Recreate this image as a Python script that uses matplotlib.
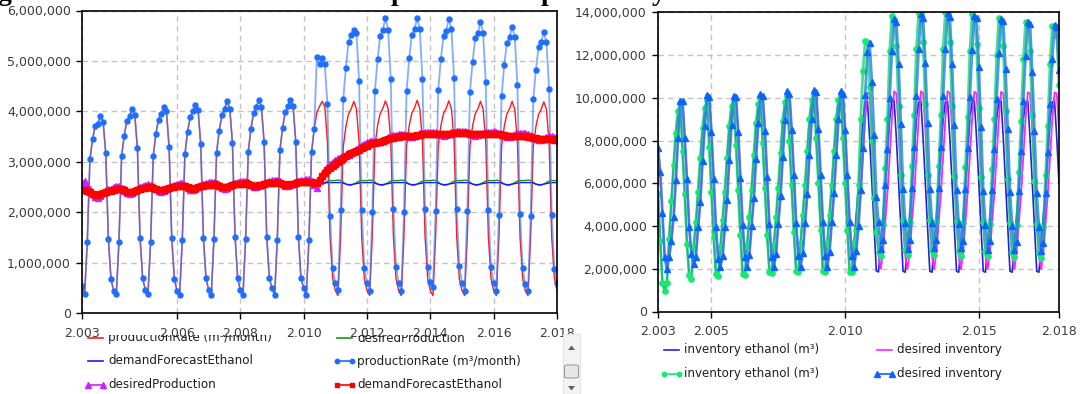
import numpy as np
import matplotlib
matplotlib.use("Agg")
import matplotlib.pyplot as plt
from matplotlib.lines import Line2D
from matplotlib.patches import Rectangle, Polygon, FancyBboxPatch
from matplotlib.ticker import FuncFormatter, FixedLocator
from matplotlib.transforms import Bbox

# monthly values, millions, Jan 2003 .. Jan 2018
# shared part (both runs equal): Jan 2003 .. May 2010 (89 months)
# run parts: Jun 2010 .. Jan 2018 (92 months)

prod_shared = [
    0.55, 0.38, 1.41, 3.05, 3.45, 3.72, 3.76, 3.90, 3.80, 3.17, 1.47, 0.67,
    0.45, 0.38, 1.41, 3.11, 3.52, 3.82, 3.90, 4.05, 3.93, 3.27, 1.49, 0.69,
    0.46, 0.38, 1.41, 3.12, 3.56, 3.84, 3.95, 4.09, 4.00, 3.30, 1.50, 0.68,
    0.45, 0.37, 1.45, 3.15, 3.60, 3.88, 4.00, 4.13, 4.02, 3.35, 1.50, 0.69,
    0.46, 0.37, 1.48, 3.18, 3.62, 3.92, 4.05, 4.20, 4.05, 3.38, 1.52, 0.69,
    0.46, 0.36, 1.47, 3.20, 3.65, 3.96, 4.08, 4.23, 4.08, 3.40, 1.52, 0.69,
    0.50, 0.36, 1.46, 3.23, 3.67, 3.98, 4.10, 4.23, 4.10, 3.40, 1.52, 0.69,
    0.50, 0.36, 1.46, 3.20, 3.66,
]
prod_run1_post = [
    3.98, 4.10, 4.20, 4.10, 3.40, 1.50, 0.69,
    0.45, 0.35, 1.50, 3.30, 3.70, 3.95, 4.05, 4.20, 4.05, 3.40, 1.50, 0.68,
    0.45, 0.35, 1.52, 3.32, 3.72, 3.96, 4.06, 4.21, 4.06, 3.42, 1.52, 0.68,
    0.45, 0.35, 1.52, 3.32, 3.72, 3.97, 4.07, 4.22, 4.06, 3.42, 1.52, 0.68,
    0.45, 0.35, 1.52, 3.31, 3.72, 3.96, 4.06, 4.21, 4.05, 3.41, 1.51, 0.68,
    0.45, 0.35, 1.51, 3.30, 3.71, 3.95, 4.05, 4.20, 4.05, 3.40, 1.51, 0.68,
    0.45, 0.35, 1.51, 3.30, 3.70, 3.95, 4.05, 4.20, 4.04, 3.40, 1.50, 0.68,
    0.45, 0.35, 1.50, 3.30, 3.70, 3.94, 4.04, 4.19, 4.04, 3.39, 1.50, 0.70,
    0.45,
]
prod_run2_post = [
    5.07, 4.93, 5.05, 4.93, 4.15, 1.92, 0.89,
    0.60, 0.46, 2.05, 4.25, 4.87, 5.37, 5.52, 5.62, 5.55, 4.60, 2.05, 0.90,
    0.60, 0.45, 2.00, 4.40, 5.03, 5.50, 5.62, 5.85, 5.62, 4.65, 2.07, 0.92,
    0.60, 0.45, 2.00, 4.40, 5.05, 5.52, 5.63, 5.85, 5.63, 4.65, 2.06, 0.92,
    0.63, 0.52, 2.02, 4.43, 5.04, 5.50, 5.60, 5.83, 5.63, 4.66, 2.07, 0.93,
    0.60, 0.45, 2.03, 4.38, 4.97, 5.45, 5.55, 5.78, 5.55, 4.58, 2.05, 0.92,
    0.60, 0.45, 1.95, 4.30, 4.92, 5.35, 5.47, 5.68, 5.47, 4.52, 1.97, 0.90,
    0.58, 0.45, 1.92, 4.25, 4.82, 5.27, 5.37, 5.57, 5.37, 4.45, 1.95, 0.88,
    0.60,
]
forecast_shared = [
    2.45, 2.44, 2.42, 2.40, 2.37, 2.35, 2.35, 2.36, 2.38, 2.40, 2.42, 2.43,
    2.45, 2.46, 2.47, 2.46, 2.44, 2.41, 2.40, 2.41, 2.43, 2.45, 2.47, 2.48,
    2.49, 2.50, 2.50, 2.49, 2.47, 2.45, 2.44, 2.45, 2.47, 2.49, 2.50, 2.51,
    2.52, 2.53, 2.53, 2.52, 2.50, 2.48, 2.47, 2.48, 2.50, 2.52, 2.53, 2.54,
    2.55, 2.55, 2.56, 2.55, 2.53, 2.51, 2.50, 2.51, 2.53, 2.55, 2.56, 2.56,
    2.57, 2.57, 2.58, 2.57, 2.55, 2.53, 2.53, 2.54, 2.55, 2.57, 2.58, 2.58,
    2.59, 2.59, 2.60, 2.59, 2.57, 2.55, 2.55, 2.56, 2.57, 2.59, 2.60, 2.60,
    2.60, 2.61, 2.61, 2.60, 2.58,
]
desired_shared = [
    2.58, 2.62, 2.55, 2.46, 2.36, 2.30, 2.28, 2.32, 2.38, 2.43, 2.46, 2.47,
    2.51, 2.53, 2.53, 2.49, 2.43, 2.38, 2.37, 2.39, 2.43, 2.47, 2.50, 2.52,
    2.54, 2.56, 2.55, 2.52, 2.46, 2.42, 2.41, 2.43, 2.47, 2.51, 2.53, 2.55,
    2.57, 2.59, 2.58, 2.55, 2.49, 2.45, 2.44, 2.46, 2.50, 2.54, 2.56, 2.58,
    2.60, 2.61, 2.61, 2.58, 2.52, 2.48, 2.47, 2.49, 2.53, 2.57, 2.59, 2.60,
    2.62, 2.63, 2.63, 2.60, 2.54, 2.50, 2.50, 2.52, 2.55, 2.59, 2.61, 2.62,
    2.64, 2.65, 2.65, 2.62, 2.56, 2.52, 2.52, 2.54, 2.57, 2.61, 2.63, 2.64,
    2.65, 2.66, 2.66, 2.62, 2.55,
]
forecast_run1_post = [
    2.58, 2.57, 2.57, 2.58, 2.59, 2.59, 2.59,
    2.59, 2.59, 2.59, 2.58, 2.56, 2.55, 2.55, 2.56, 2.57, 2.58, 2.59, 2.59,
    2.59, 2.59, 2.59, 2.58, 2.56, 2.55, 2.55, 2.56, 2.57, 2.58, 2.59, 2.59,
    2.59, 2.59, 2.59, 2.58, 2.56, 2.55, 2.55, 2.56, 2.57, 2.58, 2.59, 2.59,
    2.59, 2.59, 2.59, 2.58, 2.56, 2.55, 2.55, 2.56, 2.57, 2.58, 2.59, 2.59,
    2.59, 2.59, 2.59, 2.58, 2.56, 2.55, 2.55, 2.56, 2.57, 2.58, 2.59, 2.59,
    2.59, 2.59, 2.59, 2.58, 2.56, 2.55, 2.55, 2.56, 2.57, 2.58, 2.59, 2.59,
    2.59, 2.59, 2.59, 2.58, 2.56, 2.55, 2.55, 2.56, 2.57, 2.58, 2.59, 2.59,
    2.59,
]
desired_run1_post = [
    2.55, 2.54, 2.56, 2.59, 2.62, 2.63, 2.63,
    2.63, 2.64, 2.63, 2.60, 2.56, 2.54, 2.54, 2.56, 2.59, 2.62, 2.63, 2.63,
    2.63, 2.64, 2.63, 2.60, 2.56, 2.54, 2.54, 2.56, 2.59, 2.62, 2.63, 2.63,
    2.63, 2.64, 2.63, 2.60, 2.56, 2.54, 2.54, 2.56, 2.59, 2.62, 2.63, 2.63,
    2.63, 2.64, 2.63, 2.60, 2.56, 2.54, 2.54, 2.56, 2.59, 2.62, 2.63, 2.63,
    2.63, 2.64, 2.63, 2.60, 2.56, 2.54, 2.54, 2.56, 2.59, 2.62, 2.63, 2.63,
    2.63, 2.64, 2.63, 2.60, 2.56, 2.54, 2.54, 2.56, 2.59, 2.62, 2.63, 2.63,
    2.63, 2.64, 2.63, 2.60, 2.56, 2.54, 2.54, 2.56, 2.59, 2.62, 2.63, 2.63,
    2.63,
]
forecast_run2_post = [
    2.58, 2.65, 2.72, 2.78, 2.83, 2.88, 2.92,
    2.96, 3.00, 3.04, 3.08, 3.12, 3.15, 3.18, 3.20, 3.22, 3.24, 3.27, 3.30,
    3.32, 3.35, 3.37, 3.38, 3.39, 3.40, 3.42, 3.44, 3.46, 3.47, 3.48, 3.49,
    3.50, 3.51, 3.51, 3.51, 3.51, 3.51, 3.52, 3.53, 3.54, 3.55, 3.55, 3.55,
    3.55, 3.56, 3.56, 3.55, 3.55, 3.55, 3.55, 3.56, 3.56, 3.57, 3.57, 3.57,
    3.57, 3.57, 3.57, 3.56, 3.55, 3.55, 3.55, 3.55, 3.56, 3.56, 3.56, 3.56,
    3.56, 3.56, 3.55, 3.54, 3.53, 3.52, 3.52, 3.52, 3.52, 3.52, 3.52, 3.51,
    3.51, 3.50, 3.49, 3.48, 3.47, 3.46, 3.45, 3.45, 3.45, 3.45, 3.45, 3.44,
    3.44,
]
desired_run2_post = [
    2.48, 2.62, 2.76, 2.84, 2.90, 2.95, 3.00,
    3.04, 3.08, 3.10, 3.12, 3.13, 3.14, 3.17, 3.21, 3.25, 3.29, 3.33, 3.36,
    3.39, 3.41, 3.42, 3.41, 3.39, 3.39, 3.41, 3.45, 3.49, 3.51, 3.53, 3.54,
    3.55, 3.56, 3.55, 3.53, 3.50, 3.49, 3.51, 3.54, 3.57, 3.58, 3.59, 3.59,
    3.60, 3.60, 3.59, 3.56, 3.53, 3.52, 3.53, 3.56, 3.59, 3.60, 3.61, 3.61,
    3.61, 3.61, 3.59, 3.56, 3.53, 3.52, 3.53, 3.55, 3.58, 3.60, 3.60, 3.60,
    3.61, 3.60, 3.58, 3.55, 3.51, 3.49, 3.50, 3.52, 3.55, 3.57, 3.58, 3.58,
    3.57, 3.56, 3.53, 3.49, 3.45, 3.43, 3.43, 3.46, 3.49, 3.51, 3.51, 3.50,
    3.50,
]

# inventory panel, millions of m3
desinv_shared = [
    7.66, 6.53, 4.59, 2.54, 2.00, 2.54, 3.32, 4.43, 6.14, 8.12, 9.83, 9.86,
    8.12, 6.19, 3.97, 2.67, 2.23, 2.57, 3.94, 5.13, 7.04, 8.70, 10.14, 10.06,
    8.39, 6.19, 3.97, 2.47, 2.08, 2.60, 3.95, 5.20, 7.10, 8.75, 10.10, 10.05,
    8.40, 6.25, 4.05, 2.55, 2.10, 2.65, 4.00, 5.30, 7.15, 8.80, 10.20, 10.10,
    8.45, 6.30, 4.10, 2.55, 2.10, 2.70, 4.10, 5.40, 7.25, 8.95, 10.30, 10.20,
    8.50, 6.40, 4.15, 2.60, 2.10, 2.75, 4.15, 5.50, 7.30, 9.00, 10.35, 10.25,
    8.55, 6.40, 4.20, 2.60, 2.10, 2.80, 4.20, 5.55, 7.30, 9.00, 10.30, 10.20,
    8.50, 6.40, 4.20, 2.60, 2.10,
]
inv_shared = [
    5.50, 3.32, 1.33, 0.98, 1.35, 3.40, 5.15, 6.85, 8.36, 9.36, 9.75, 7.50,
    5.52, 3.16, 1.69, 1.53, 3.00, 4.20, 5.57, 7.20, 8.60, 9.50, 9.90, 7.70,
    5.60, 3.50, 1.75, 1.65, 3.00, 4.30, 5.60, 7.20, 8.70, 9.60, 9.95, 7.80,
    5.70, 3.60, 1.75, 1.70, 3.10, 4.40, 5.70, 7.30, 8.80, 9.70, 10.00, 7.90,
    5.80, 3.60, 1.85, 1.80, 3.10, 4.40, 5.80, 7.40, 8.90, 9.80, 10.10, 8.00,
    5.90, 3.70, 1.90, 1.85, 3.20, 4.50, 5.90, 7.50, 9.00, 9.90, 10.20, 8.10,
    6.00, 3.80, 1.90, 1.85, 3.20, 4.50, 5.90, 7.50, 9.00, 9.90, 10.20, 8.10,
    6.00, 3.80, 1.85, 1.85, 3.20,
]
desinv_run1_post = [
    2.80, 4.20, 5.55, 7.30, 9.00, 10.25, 10.20,
    8.55, 6.40, 4.20, 2.60, 2.00, 2.80, 4.20, 5.55, 7.30, 9.00, 10.30, 10.20,
    8.55, 6.40, 4.20, 2.60, 1.98, 2.80, 4.20, 5.55, 7.30, 9.00, 10.30, 10.22,
    8.55, 6.40, 4.20, 2.60, 1.98, 2.80, 4.20, 5.55, 7.30, 9.00, 10.30, 10.22,
    8.55, 6.40, 4.20, 2.60, 1.98, 2.80, 4.20, 5.55, 7.30, 9.00, 10.28, 10.20,
    8.55, 6.40, 4.20, 2.60, 1.98, 2.80, 4.20, 5.55, 7.30, 9.00, 10.28, 10.20,
    8.55, 6.40, 4.20, 2.60, 1.98, 2.80, 4.20, 5.55, 7.30, 9.00, 10.25, 10.20,
    8.55, 6.40, 4.20, 2.60, 1.98, 2.80, 4.20, 5.55, 7.30, 9.00, 10.25, 10.20,
    8.50,
]
inv_run1_post = [
    4.50, 5.90, 7.50, 9.00, 9.80, 9.85, 8.10,
    6.00, 3.80, 1.90, 1.85, 3.20, 4.50, 5.90, 7.50, 9.00, 9.80, 9.85, 8.10,
    6.00, 3.80, 1.88, 1.84, 3.20, 4.50, 5.90, 7.50, 9.00, 9.80, 9.85, 8.10,
    6.00, 3.80, 1.88, 1.84, 3.20, 4.50, 5.90, 7.50, 9.00, 9.80, 9.85, 8.10,
    6.00, 3.80, 1.88, 1.84, 3.20, 4.50, 5.90, 7.50, 9.00, 9.80, 9.85, 8.10,
    6.00, 3.80, 1.88, 1.84, 3.20, 4.50, 5.90, 7.50, 9.00, 9.80, 9.85, 8.10,
    6.00, 3.80, 1.88, 1.84, 3.20, 4.50, 5.90, 7.50, 9.00, 9.80, 9.85, 8.10,
    6.00, 3.80, 1.88, 1.84, 3.20, 4.50, 5.90, 7.50, 9.00, 9.80, 9.85, 8.10,
    6.00,
]
desinv_run2_post = [
    2.85, 4.00, 5.70, 7.66, 10.15, 12.15, 12.55,
    10.75, 8.25, 5.36, 4.19, 2.94, 3.33, 5.90, 7.60, 10.00, 12.20, 13.67, 13.56,
    11.60, 8.76, 5.75, 4.15, 2.94, 3.35, 5.80, 7.70, 10.10, 12.30, 13.90, 13.75,
    11.65, 8.80, 5.75, 4.15, 2.95, 3.35, 5.80, 7.70, 10.10, 12.30, 13.95, 13.80,
    11.60, 8.75, 5.70, 4.10, 2.95, 3.30, 5.75, 7.65, 10.05, 12.25, 13.85, 13.75,
    11.45, 8.65, 5.65, 4.05, 2.90, 3.30, 5.70, 7.60, 9.95, 12.10, 13.70, 13.60,
    11.35, 8.55, 5.60, 4.00, 2.90, 3.25, 5.65, 7.50, 9.85, 11.95, 13.55, 13.45,
    11.20, 8.45, 5.55, 3.95, 2.85, 3.20, 5.55, 7.45, 9.70, 11.80, 13.40, 13.30,
    11.30,
]
inv_run2_post = [
    3.80, 5.90, 9.00, 11.25, 12.65, 12.60, 10.50,
    8.00, 5.30, 3.70, 2.80, 2.60, 4.10, 6.70, 9.00, 12.20, 13.85, 13.70, 12.40,
    9.60, 6.40, 4.30, 2.90, 2.65, 4.20, 6.80, 9.20, 12.30, 13.95, 13.90, 12.60,
    9.70, 6.40, 4.30, 2.90, 2.65, 4.20, 6.80, 9.20, 12.30, 14.00, 13.90, 12.60,
    9.60, 6.35, 4.25, 2.85, 2.60, 4.15, 6.75, 9.10, 12.20, 13.90, 13.80, 12.50,
    9.50, 6.30, 4.20, 2.85, 2.60, 4.10, 6.65, 9.00, 12.00, 13.75, 13.60, 12.40,
    9.40, 6.20, 4.15, 2.80, 2.55, 4.05, 6.55, 8.90, 11.80, 13.55, 13.45, 12.20,
    9.20, 6.10, 4.10, 2.75, 2.50, 3.95, 6.40, 8.70, 11.60, 13.35, 13.30, 12.90,
    10.60,
]

left_ticks = [2003, 2006, 2008, 2010, 2012, 2014, 2016, 2018]
right_ticks = [2003, 2005, 2010, 2015, 2018]

W, H = 1081, 394
t = 2003 + np.arange(len(prod_shared) + len(prod_run1_post)) / 12.0


def run(shared, post):
    return np.concatenate([shared, post]) * 1e6


def fx(px):
    return px / W


def fy(py):
    return 1 - py / H


fig = plt.figure(figsize=(W / 100, H / 100), dpi=100)
ax1 = fig.add_axes([fx(82), fy(313.3), (557 - 82) / W, (313.3 - 10.5) / H])
ax2 = fig.add_axes([fx(658), fy(311.5), (1059 - 658) / W, (311.5 - 12.3) / H])

yfmt = FuncFormatter(lambda v, p: f"{int(round(v)):,}")
xfmt = FuncFormatter(lambda v, p: f"{int(round(v)) // 1000}.{int(round(v)) % 1000:03d}")

for ax, ticks, ymax, ystep in [(ax1, left_ticks, 6e6, 1e6), (ax2, right_ticks, 14e6, 2e6)]:
    ax.set_xlim(2003, 2018)
    ax.set_ylim(0, ymax)
    ax.xaxis.set_major_locator(FixedLocator(ticks))
    ax.yaxis.set_major_locator(FixedLocator(np.arange(0, ymax + 1, ystep)))
    ax.xaxis.set_major_formatter(xfmt)
    ax.yaxis.set_major_formatter(yfmt)
    ax.grid(True, linestyle=(0, (4, 3)), color="#c4c4c4", linewidth=1)
    ax.set_axisbelow(True)
    ax.tick_params(direction="out", length=4, width=1, labelsize=9,
                   labelcolor="#3c3c3c", pad=4)
    ax.tick_params(axis="x", pad=6)
    for s in ax.spines.values():
        s.set_linewidth(1.2)
        s.set_color("black")

# left panel: run 1 as lines, run 2 with markers
ax1.plot(t, run(prod_shared, prod_run1_post), color="#ff1a1a", lw=1.0)
ax1.plot(t, run(desired_shared, desired_run1_post), color="#139a13", lw=1.0)
ax1.plot(t, run(forecast_shared, forecast_run1_post), color="#1a1aff", lw=1.0)
ax1.plot(t, run(prod_shared, prod_run2_post), color=(0.25, 0.5, 1.0, 0.65), lw=1.3,
         marker="o", ms=3.6, mfc="#1f6fff", mec="#1f6fff")
ax1.plot(t, run(desired_shared, desired_run2_post), color="#cc22ff", lw=2,
         marker="^", ms=4.5, mfc="#cc22ff", mec="#cc22ff")
ax1.plot(t, run(forecast_shared, forecast_run2_post), color="#ff0000", lw=3,
         marker="s", ms=4, mfc="#ff0000", mec="#ff0000")

# right panel
ax2.plot(t, run(inv_shared, inv_run1_post), color="#2222dd", lw=1.2)
ax2.plot(t, run(desinv_shared, desinv_run1_post), color="#ff22ff", lw=1.3)
ax2.plot(t, run(inv_shared, inv_run2_post), color=(0.1, 0.85, 0.45, 0.8), lw=2,
         marker="o", ms=3.8, mfc="#19e870", mec="#19e870")
ax2.plot(t, run(desinv_shared, desinv_run2_post), color=(0.15, 0.5, 0.9, 0.8), lw=2,
         marker="^", ms=5, mfc="#0a64ff", mec="#0a64ff")

# legends (drawn by hand, with the clipped first row on the left)
clip_left = Bbox.from_extents(0, 0, 560, H - 335)


def legend_item(x, y, color, label, marker=None, ms=4, lw=1.2, clip=None):
    if marker:
        ln = Line2D([fx(x), fx(x + 15)], [fy(y), fy(y)], transform=fig.transFigure,
                    color=color, lw=lw, marker=marker, ms=ms, mfc=color, mec=color)
    else:
        ln = Line2D([fx(x), fx(x + 15)], [fy(y), fy(y)], transform=fig.transFigure,
                    color=color, lw=lw)
    fig.add_artist(ln)
    txt = fig.text(fx(x + 20), fy(y), label, ha="left", va="center",
                   fontsize=8.6, color="#1e1e1e")
    if clip is not None:
        txt.set_clip_box(clip)
        txt.set_clip_on(True)


legend_item(88, 338, "#ff1a1a", "productionRate (m³/month)", clip=clip_left)
legend_item(337, 338, "#139a13", "desiredProduction", clip=clip_left)
legend_item(88, 361, "#1a1aff", "demandForecastEthanol")
legend_item(337, 361, "#1f6fff", "productionRate (m³/month)", marker="o", ms=3.2)
legend_item(88, 385, "#cc22ff", "desiredProduction", marker="^", ms=4)
legend_item(337, 385, "#ff0000", "demandForecastEthanol", marker="s", ms=3.2)

legend_item(664, 350, "#2222dd", "inventory ethanol (m³)")
legend_item(877, 350, "#ff22ff", "desired inventory")
legend_item(664, 374, "#19e870", "inventory ethanol (m³)", marker="o", ms=3.2)
legend_item(877, 374, "#0a64ff", "desired inventory", marker="^", ms=4)

# scrollbar of the left legend
fig.add_artist(Rectangle((fx(563), fy(394)), 17 / W, (394 - 334) / H,
                         transform=fig.transFigure, facecolor="#f3f3f3",
                         edgecolor="#e2e2e2", lw=0.8))
fig.add_artist(Polygon([[fx(568), fy(350)], [fx(575), fy(350)], [fx(571.5), fy(345.5)]],
                       closed=True, transform=fig.transFigure, facecolor="#606060",
                       edgecolor="none"))
fig.add_artist(Polygon([[fx(568), fy(386)], [fx(575), fy(386)], [fx(571.5), fy(390.5)]],
                       closed=True, transform=fig.transFigure, facecolor="#606060",
                       edgecolor="none"))
fig.add_artist(FancyBboxPatch((fx(564.5), fy(378)), 14 / W, 13 / H,
                              boxstyle="round,pad=0,rounding_size=0.003",
                              transform=fig.transFigure, facecolor="#e6e6e6",
                              edgecolor="#9c9c9c", lw=0.8))

# bottom of the page title above the charts
for gx, g in [(4, "g"), (398, "p"), (548, "p"), (659, "y")]:
    fig.text(fx(gx), 1 + 0.5 / H, g, ha="center", va="baseline", fontsize=20,
             fontweight="bold", family="Liberation Serif", color="black")

fig.savefig("out.png", dpi=100)
